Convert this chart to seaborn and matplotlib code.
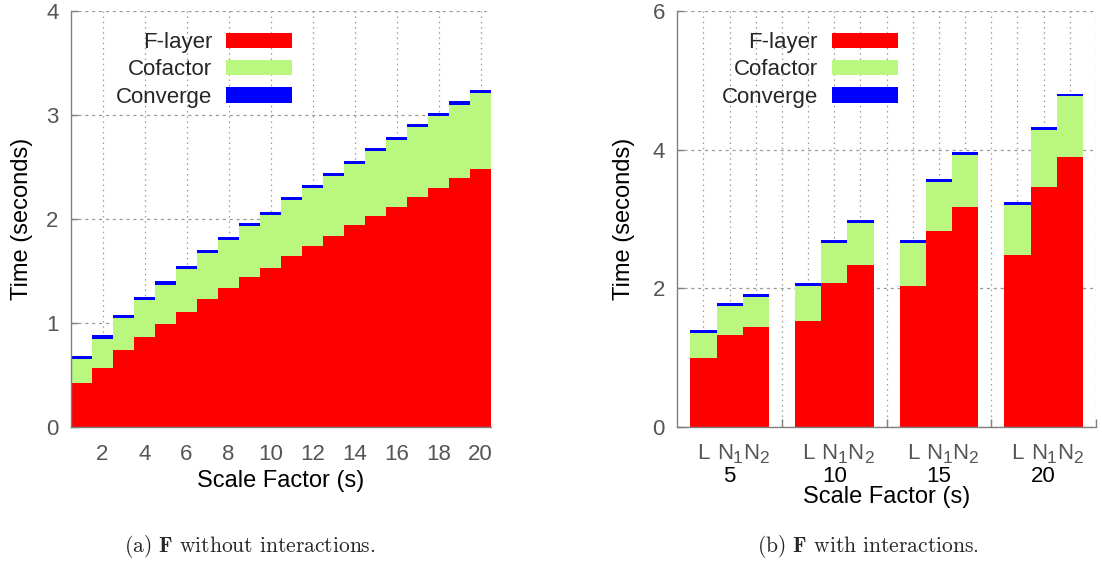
import numpy as np
import pandas as pd
import matplotlib
matplotlib.use("Agg")
import matplotlib.pyplot as plt
import matplotlib.transforms as mtransforms
from matplotlib.patches import Patch
from matplotlib.ticker import FixedLocator
import seaborn as sns

# ---------------- data ----------------
# (a) F without interactions
scale_a = [1, 2, 3, 4, 5, 6, 7, 8, 9, 10, 11, 12, 13, 14, 15, 16, 17, 18, 19, 20]
flayer_a = [0.42, 0.57, 0.74, 0.87, 0.99, 1.11, 1.23, 1.34, 1.44, 1.53,
            1.64, 1.74, 1.84, 1.94, 2.03, 2.12, 2.21, 2.30, 2.39, 2.48]
cofactor_a = [0.23, 0.28, 0.31, 0.35, 0.38, 0.41, 0.44, 0.46, 0.49, 0.51,
              0.54, 0.56, 0.57, 0.59, 0.62, 0.64, 0.67, 0.69, 0.71, 0.73]
converge_a = [0.03, 0.03, 0.03, 0.03, 0.03, 0.03, 0.03, 0.03, 0.03, 0.03,
              0.03, 0.03, 0.03, 0.03, 0.03, 0.03, 0.03, 0.03, 0.03, 0.03]
xticks_a = [2, 4, 6, 8, 10, 12, 14, 16, 18, 20]

# (b) F with interactions
groups_b = ["5", "10", "15", "20"]
variants_b = ["L", "N1", "N2"]
variant_main_b = ["L", "N", "N"]
variant_sub_b = ["", "1", "2"]
flayer_b = [0.99, 1.32, 1.44,  1.53, 2.08, 2.34,  2.03, 2.82, 3.17,  2.48, 3.46, 3.89]
cofactor_b = [0.37, 0.43, 0.44,  0.50, 0.58, 0.60,  0.63, 0.71, 0.76,  0.72, 0.82, 0.88]
converge_b = [0.04, 0.04, 0.04,  0.04, 0.04, 0.04,  0.04, 0.04, 0.04,  0.04, 0.04, 0.04]

series_names = ["F-layer", "Cofactor", "Converge"]

# ---------------- style ----------------
RED = "#ff0000"
GREEN = "#b9f77e"
BLUE = "#0000ff"
GRAY_TXT = "#555555"
GRID = "#9a9a9a"
SPINE = "#808080"

sns.set_style("white")
plt.rcParams["font.family"] = ["Liberation Sans", "DejaVu Sans"]

TICK_FS = 16
LABEL_FS = 17
LEG_FS = 16
SUB_FS = 12.5

fig = plt.figure(figsize=(11.02, 5.63), dpi=100)
ax_a = fig.add_axes([71 / 1102, 136 / 563, 420 / 1102, 416 / 563])
ax_b = fig.add_axes([677.3 / 1102, 136 / 563, 418.7 / 1102, 416 / 563])

# ---------------- panel (a) ----------------
df_a = pd.DataFrame({"scale": scale_a, "flayer": flayer_a,
                     "cofactor": cofactor_a, "converge": converge_a})
df_a["top2"] = df_a["flayer"] + df_a["cofactor"]
df_a["top3"] = df_a["top2"] + df_a["converge"]

for col, color in [("top3", BLUE), ("top2", GREEN), ("flayer", RED)]:
    sns.barplot(data=df_a, x="scale", y=col, native_scale=True, width=1.0,
                color=color, saturation=1, linewidth=0, ax=ax_a, errorbar=None)

ax_a.set_xlim(0.5, 20.5)
ax_a.set_ylim(0, 4)
ax_a.set_xticks(xticks_a)
ax_a.set_xticklabels([str(v) for v in xticks_a])
ax_a.set_yticks([0, 1, 2, 3, 4])
ax_a.set_yticklabels(["0", "1", "2", "3", "4"])

# ---------------- panel (b) ----------------
rows = []
k = 0
for g in groups_b:
    for v in variants_b:
        rows.append({"scale": g, "variant": v, "flayer": flayer_b[k],
                     "cofactor": cofactor_b[k], "converge": converge_b[k]})
        k += 1
df_b = pd.DataFrame(rows)
df_b["top2"] = df_b["flayer"] + df_b["cofactor"]
df_b["top3"] = df_b["top2"] + df_b["converge"]

for col, color in [("top3", BLUE), ("top2", GREEN), ("flayer", RED)]:
    sns.barplot(data=df_b, x="scale", y=col, hue="variant", order=groups_b,
                hue_order=variants_b, palette={v: color for v in variants_b},
                width=0.75, gap=0, dodge=True, saturation=1, linewidth=0,
                legend=False, ax=ax_b, errorbar=None)

bw = 0.75 / len(variants_b)
bar_pos = [gi + (vi - 1) * bw for gi in range(len(groups_b)) for vi in range(len(variants_b))]
sep_pos = [gi + 0.5 for gi in range(len(groups_b))]
ax_b.set_xlim(-0.5, len(groups_b) - 0.5)
ax_b.set_ylim(0, 6)
ax_b.xaxis.set_major_locator(FixedLocator(bar_pos))
ax_b.xaxis.set_minor_locator(FixedLocator(sep_pos))
ax_b.set_yticks([0, 2, 4, 6])
ax_b.set_yticklabels(["0", "2", "4", "6"])

trans_b = mtransforms.blended_transform_factory(ax_b.transData, ax_b.transAxes)
LAB_Y = -0.064
for gi, g in enumerate(groups_b):
    ax_b.text(gi, -0.12, g, transform=trans_b, ha="center", va="center",
              fontsize=TICK_FS, color="black")
    for vi in range(len(variants_b)):
        p = gi + (vi - 1) * bw
        main, sub = variant_main_b[vi], variant_sub_b[vi]
        if not sub:
            ax_b.text(p, LAB_Y, main, transform=trans_b, ha="center", va="center",
                      fontsize=TICK_FS, color=GRAY_TXT)
        else:
            dx = (0.722 * TICK_FS - 0.556 * SUB_FS) / 2.0
            off_main = mtransforms.ScaledTranslation(dx / 72, 0, fig.dpi_scale_trans)
            off_sub = mtransforms.ScaledTranslation(dx / 72, -3.6 / 72, fig.dpi_scale_trans)
            ax_b.text(p, LAB_Y, main, transform=trans_b + off_main, ha="right",
                      va="center", fontsize=TICK_FS, color=GRAY_TXT)
            ax_b.text(p, LAB_Y, sub, transform=trans_b + off_sub, ha="left",
                      va="center", fontsize=SUB_FS, color=GRAY_TXT)

# ---------------- common styling ----------------
handles = [Patch(facecolor=c, edgecolor="none") for c in (RED, GREEN, BLUE)]
for ax, xl_y, yl_x in [(ax_a, -0.13, -0.117), (ax_b, -0.168, -0.127)]:
    ax.set_axisbelow(True)
    for s in ("top", "right"):
        ax.spines[s].set_visible(False)
    for s in ("left", "bottom"):
        ax.spines[s].set_color(SPINE)
        ax.spines[s].set_linewidth(1.0)
    ax.yaxis.grid(True, color=GRID, linestyle=(0, (2.5, 3)), linewidth=0.9)
    ax.xaxis.grid(True, which="both", color=GRID, linestyle=(0, (1.2, 3)), linewidth=0.9)
    ax.tick_params(axis="y", direction="in", length=5, width=1, color=SPINE,
                   labelsize=TICK_FS, labelcolor=GRAY_TXT, pad=9, left=True)
    ax.tick_params(axis="x", which="major", length=0, labelsize=TICK_FS,
                   labelcolor=GRAY_TXT, pad=12, bottom=True)
    ax.set_xlabel("Scale Factor (s)", fontsize=LABEL_FS, color="black", va="center")
    ax.set_ylabel("Time (seconds)", fontsize=LABEL_FS, color="black", va="center")
    ax.xaxis.set_label_coords(0.5, xl_y)
    ax.yaxis.set_label_coords(yl_x, 0.5)
    ax.legend(handles, series_names, loc="upper right",
              bbox_to_anchor=(0.526, 0.949), markerfirst=False,
              frameon=False, fontsize=LEG_FS, handlelength=2.97,
              handleheight=0.68, handletextpad=0.62, labelspacing=0.28,
              borderpad=0, borderaxespad=0)

ax_b.tick_params(axis="x", which="major", labelbottom=False)
ax_b.tick_params(axis="x", which="minor", direction="in", length=6, width=1,
                 color=SPINE, bottom=True)

# ---------------- captions ----------------
fig.text(250 / 1102, 1 - 547 / 563, r"(a) $\mathbf{F}$ without interactions.",
         ha="center", va="center", fontsize=15.5, family="cmr10", math_fontfamily="cm")
fig.text(868 / 1102, 1 - 547 / 563, r"(b) $\mathbf{F}$ with interactions.",
         ha="center", va="center", fontsize=15.5, family="cmr10", math_fontfamily="cm")

fig.savefig("out.png", dpi=100)
